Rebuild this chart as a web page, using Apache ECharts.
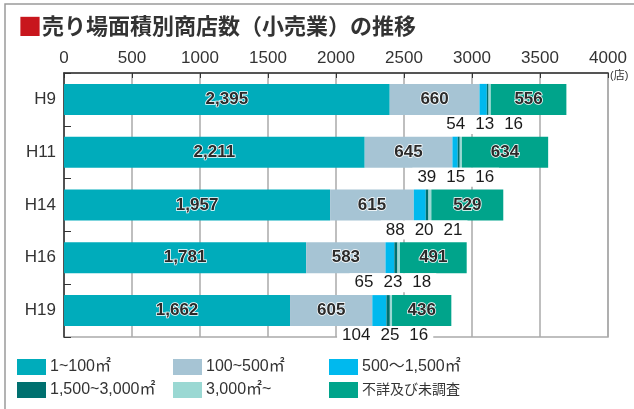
<!DOCTYPE html>
<html>
<head>
<meta charset="utf-8">
<script src="https://cdn.jsdelivr.net/npm/echarts@6/dist/echarts.min.js"></script>
<style>
  html, body { margin: 0; padding: 0; background: #fff; }
  #main { width: 634px; height: 409px; }
</style>
</head>
<body>
<div id="main"></div>
<script>
// 年次
var years = ['H9', 'H11', 'H14', 'H16', 'H19'];
// 売り場面積別の商店数
var s1to100 = [2395, 2211, 1957, 1781, 1662];
var s100to500 = [660, 645, 615, 583, 605];
var s500to1500 = [54, 39, 88, 65, 104];
var s1500to3000 = [13, 15, 20, 23, 25];
var s3000over = [16, 16, 21, 18, 16];
var sUnknown = [556, 634, 529, 491, 436];
var xTicks = [0, 500, 1000, 1500, 2000, 2500, 3000, 3500, 4000];

var names = ['1~100㎡', '100~500㎡', '500～1,500㎡', '1,500~3,000㎡', '3,000㎡~', '不詳及び未調査'];
var colors = ['#00acbb', '#a6c4d4', '#00b9ee', '#00706f', '#9ad8d3', '#00a48b'];
var font = "'Liberation Sans', 'Noto Sans CJK JP', sans-serif";

var chart = echarts.init(document.getElementById('main'));

// 棒の中の数値ラベル
var inLabel = {
    show: true,
    position: 'inside',
    fontFamily: font,
    fontSize: 17,
    fontWeight: 'bold',
    color: '#2a2a2a',
    textBorderColor: '#fff',
    textBorderWidth: 1.5,
    formatter: function (p) { return p.value.toLocaleString('en-US'); }
};

function bar(i, data, label) {
    return {
        name: names[i],
        type: 'bar',
        stack: 'total',
        barWidth: 31,
        itemStyle: {color: colors[i]},
        label: label || {show: false},
        emphasis: {disabled: true},
        data: data
    };
}

// 小さい区分は棒の下にまとめて表示
var smallLabel = {
    show: true,
    position: 'bottom',
    distance: 0,
    offset: [-3, 0],
    backgroundColor: '#fff',
    padding: [1, 0],
    formatter: function (p) {
        var k = p.dataIndex;
        return '{n|' + s500to1500[k] + '}{n|' + s1500to3000[k] + '}{n|' + s3000over[k] + '}';
    },
    rich: {
        n: {fontFamily: font, fontSize: 17, color: '#1a1a1a', padding: [0, 5]}
    }
};

var legends = [];
var lpos = [[17, 359], [173, 359], [329, 359], [17, 382], [173, 382], [329, 382]];
var lsize = [16, 16, 16, 16, 16, 14];
for (var i = 0; i < names.length; i++) {
    legends.push({
        left: lpos[i][0],
        top: lpos[i][1],
        padding: 0,
        icon: 'rect',
        itemWidth: 29,
        itemHeight: 16,
        selectedMode: false,
        textStyle: {fontFamily: font, fontSize: lsize[i], color: '#333', padding: [0, 0, 0, -1]},
        data: [names[i]]
    });
}

var option = {
    animation: false,
    title: {
        left: 13,
        top: 9,
        text: '{r|■}{t|売り場面積別商店数（小売業）の推移}',
        textStyle: {
            rich: {
                r: {fontFamily: "'Noto Sans CJK JP'", fontSize: 24, color: '#c8161d'},
                t: {fontFamily: "'Noto Sans CJK JP'", fontSize: 22, fontWeight: 'bold', color: '#333'}
            }
        }
    },
    graphic: [{
        type: 'rect',
        shape: {x: 5, y: 4, width: 700, height: 500},
        style: {fill: 'none', stroke: '#9a9a9a', lineWidth: 1.5},
        silent: true
    }],
    legend: legends,
    grid: {
        left: 64, right: 26, top: 73, bottom: 72,
        show: true,
        borderColor: '#aaa',
        borderWidth: 1.5
    },
    xAxis: {
        type: 'value',
        position: 'top',
        min: xTicks[0],
        max: xTicks[xTicks.length - 1],
        interval: 500,
        name: '(店)',
        nameLocation: 'end',
        nameGap: 2,
        nameTextStyle: {fontFamily: font, fontSize: 11, color: '#333', verticalAlign: 'top', padding: [-3, 0, 0, 0]},
        axisLine: {show: true, lineStyle: {color: '#333', width: 1.5}},
        axisTick: {show: true, inside: true, length: 5, lineStyle: {color: '#333'}},
        axisLabel: {
            fontFamily: font, fontSize: 17, color: '#333', margin: 6,
            formatter: function (v) { return String(v); }
        },
        splitLine: {show: true, lineStyle: {color: '#aaa', width: 1.5}}
    },
    yAxis: {
        type: 'category',
        inverse: true,
        data: years,
        axisLine: {show: true, lineStyle: {color: '#333', width: 1.5}},
        axisTick: {show: true, inside: true, length: 7, lineStyle: {color: '#333'}},
        axisLabel: {fontFamily: font, fontSize: 17, color: '#333', margin: 8}
    },
    series: [
        bar(0, s1to100, inLabel),
        bar(1, s100to500, inLabel),
        bar(2, s500to1500),
        bar(3, s1500to3000, smallLabel),
        bar(4, s3000over),
        bar(5, sUnknown, inLabel)
    ]
};
chart.setOption(option);
</script>
</body>
</html>
